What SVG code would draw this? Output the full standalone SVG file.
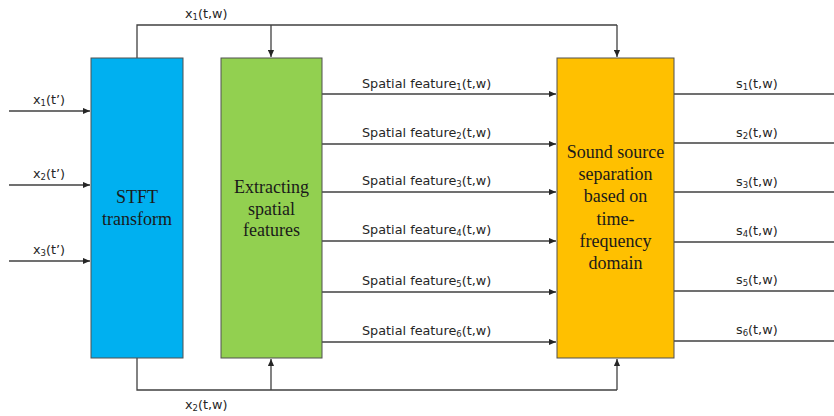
<svg xmlns="http://www.w3.org/2000/svg" width="834" height="416" viewBox="0 0 834 416">
<defs>
<marker id="ah" viewBox="0 0 8 8" refX="8" refY="4" markerWidth="7" markerHeight="7" markerUnits="userSpaceOnUse" orient="auto">
<path d="M0,0.5 L8,4 L0,7.5 Z" fill="#262626"/>
</marker>
<style>
.box{stroke:#505050;stroke-width:1}
.ln{fill:none;stroke:#404040;stroke-width:1.3}
.arr{marker-end:url(#ah)}
.lbl{font-family:"DejaVu Sans",Verdana,sans-serif;font-size:12.8px;fill:#262626}
.sub{font-size:8.5px}
.bt{font-family:"Liberation Serif","Times New Roman",serif;font-size:18px;fill:#1a1a1a;text-anchor:middle}
</style>
</defs>
<rect width="834" height="416" fill="#ffffff"/>
<g id="connectors">
<path class="ln arr" d="M9,111 H90"/>
<path class="ln arr" d="M9,185 H90"/>
<path class="ln arr" d="M9,261 H90"/>
<path class="ln" d="M137,58 V25 H617"/>
<path class="ln arr" d="M617,25 V57"/>
<path class="ln arr" d="M271,25 V57"/>
<path class="ln" d="M137,358 V390 H617"/>
<path class="ln arr" d="M617,390 V359"/>
<path class="ln arr" d="M271,390 V359"/>
<path class="ln arr" d="M322,94 H556"/>
<path class="ln arr" d="M322,144 H556"/>
<path class="ln arr" d="M322,192 H556"/>
<path class="ln arr" d="M322,241 H556"/>
<path class="ln arr" d="M322,292 H556"/>
<path class="ln arr" d="M322,342 H556"/>
<path class="ln" d="M674,94 H834"/>
<path class="ln" d="M674,143 H834"/>
<path class="ln" d="M674,192 H834"/>
<path class="ln" d="M674,242 H834"/>
<path class="ln" d="M674,291 H834"/>
<path class="ln" d="M674,341 H834"/>
</g>
<g id="labels">
<text class="lbl" x="33" y="104">x<tspan class="sub" dy="2">1</tspan><tspan dy="-2">(t’)</tspan></text>
<text class="lbl" x="33" y="178">x<tspan class="sub" dy="2">2</tspan><tspan dy="-2">(t’)</tspan></text>
<text class="lbl" x="33" y="254">x<tspan class="sub" dy="2">3</tspan><tspan dy="-2">(t’)</tspan></text>
<text class="lbl" x="185" y="18">x<tspan class="sub" dy="2">1</tspan><tspan dy="-2">(t,w)</tspan></text>
<text class="lbl" x="185" y="409">x<tspan class="sub" dy="2">2</tspan><tspan dy="-2">(t,w)</tspan></text>
<text class="lbl" x="362" y="88">Spatial feature<tspan class="sub" dy="2">1</tspan><tspan dy="-2">(t,w)</tspan></text>
<text class="lbl" x="362" y="137">Spatial feature<tspan class="sub" dy="2">2</tspan><tspan dy="-2">(t,w)</tspan></text>
<text class="lbl" x="362" y="185">Spatial feature<tspan class="sub" dy="2">3</tspan><tspan dy="-2">(t,w)</tspan></text>
<text class="lbl" x="362" y="234">Spatial feature<tspan class="sub" dy="2">4</tspan><tspan dy="-2">(t,w)</tspan></text>
<text class="lbl" x="362" y="285">Spatial feature<tspan class="sub" dy="2">5</tspan><tspan dy="-2">(t,w)</tspan></text>
<text class="lbl" x="362" y="335">Spatial feature<tspan class="sub" dy="2">6</tspan><tspan dy="-2">(t,w)</tspan></text>
<text class="lbl" x="736" y="88">s<tspan class="sub" dy="2">1</tspan><tspan dy="-2">(t,w)</tspan></text>
<text class="lbl" x="736" y="137">s<tspan class="sub" dy="2">2</tspan><tspan dy="-2">(t,w)</tspan></text>
<text class="lbl" x="736" y="186">s<tspan class="sub" dy="2">3</tspan><tspan dy="-2">(t,w)</tspan></text>
<text class="lbl" x="736" y="235">s<tspan class="sub" dy="2">4</tspan><tspan dy="-2">(t,w)</tspan></text>
<text class="lbl" x="736" y="284">s<tspan class="sub" dy="2">5</tspan><tspan dy="-2">(t,w)</tspan></text>
<text class="lbl" x="736" y="334">s<tspan class="sub" dy="2">6</tspan><tspan dy="-2">(t,w)</tspan></text>
</g>
<g id="stft">
<rect class="box" x="91" y="58" width="92" height="300" fill="#00B0F0"/>
<text class="bt" x="137" y="203">STFT</text>
<text class="bt" x="137" y="225">transform</text>
</g>
<g id="extract">
<rect class="box" x="221" y="58" width="101" height="300" fill="#92D050"/>
<text class="bt" x="271.5" y="193">Extracting</text>
<text class="bt" x="271.5" y="214.5">spatial</text>
<text class="bt" x="271.5" y="236">features</text>
</g>
<g id="separation">
<rect class="box" x="557" y="58" width="117" height="300" fill="#FFC000"/>
<text class="bt" x="615.5" y="158">Sound source</text>
<text class="bt" x="615.5" y="180">separation</text>
<text class="bt" x="615.5" y="202">based on</text>
<text class="bt" x="615.5" y="225">time-</text>
<text class="bt" x="615.5" y="247">frequency</text>
<text class="bt" x="615.5" y="269">domain</text>
</g>
</svg>
